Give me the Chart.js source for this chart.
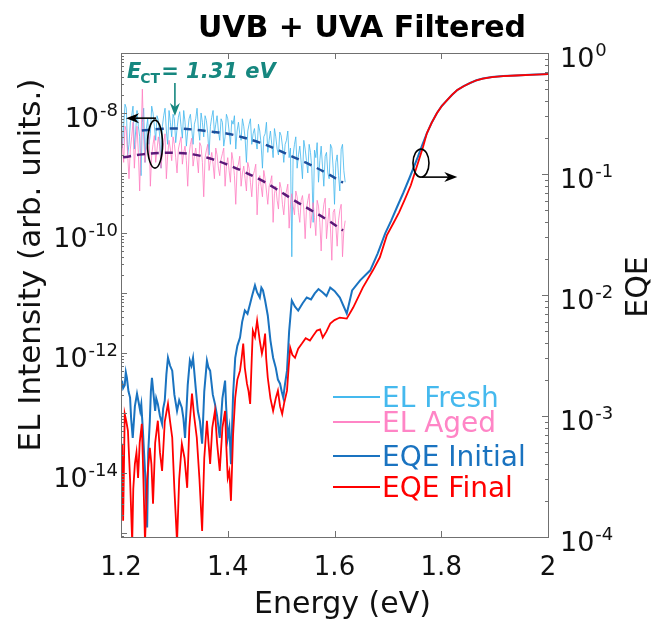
<!DOCTYPE html>
<html>
<head>
<meta charset="utf-8">
<script src="https://cdn.jsdelivr.net/npm/chart.js@4.4.1/dist/chart.umd.min.js"></script>
<style>
  body { margin: 0; background: #fff; }
  canvas { display: block; }
</style>
</head>
<body>
<canvas id="chart" width="652" height="621"></canvas>
<script>
// EL spectra (left axis), one row = 0.02 eV
const energyEL = [
  1.2000,1.2025,1.2050,1.2075,1.2100,1.2125,1.2150,1.2175,
  1.2200,1.2225,1.2250,1.2275,1.2300,1.2325,1.2350,1.2375,
  1.2400,1.2425,1.2450,1.2475,1.2500,1.2525,1.2550,1.2575,
  1.2600,1.2625,1.2650,1.2675,1.2700,1.2725,1.2750,1.2775,
  1.2800,1.2825,1.2850,1.2875,1.2900,1.2925,1.2950,1.2975,
  1.3000,1.3025,1.3050,1.3075,1.3100,1.3125,1.3150,1.3175,
  1.3200,1.3225,1.3250,1.3275,1.3300,1.3325,1.3350,1.3375,
  1.3400,1.3425,1.3450,1.3475,1.3500,1.3525,1.3550,1.3575,
  1.3600,1.3625,1.3650,1.3675,1.3700,1.3725,1.3750,1.3775,
  1.3800,1.3825,1.3850,1.3875,1.3900,1.3925,1.3950,1.3975,
  1.4000,1.4025,1.4050,1.4075,1.4100,1.4125,1.4150,1.4175,
  1.4200,1.4225,1.4250,1.4275,1.4300,1.4325,1.4350,1.4375,
  1.4400,1.4425,1.4450,1.4475,1.4500,1.4525,1.4550,1.4575,
  1.4600,1.4625,1.4650,1.4675,1.4700,1.4725,1.4750,1.4775,
  1.4800,1.4825,1.4850,1.4875,1.4900,1.4925,1.4950,1.4975,
  1.5000,1.5025,1.5050,1.5075,1.5100,1.5125,1.5150,1.5175,
  1.5200,1.5225,1.5250,1.5275,1.5300,1.5325,1.5350,1.5375,
  1.5400,1.5425,1.5450,1.5475,1.5500,1.5525,1.5550,1.5575,
  1.5600,1.5625,1.5650,1.5675,1.5700,1.5725,1.5750,1.5775,
  1.5800,1.5825,1.5850,1.5875,1.5900,1.5925,1.5950,1.5975,
  1.6000,1.6025,1.6050,1.6075,1.6100,1.6125,1.6150,1.6175,
  1.6200
];
const elFresh = [
  1.8e-8,2.6e-9,6e-9,1.4e-8,1.2e-8,2e-9,3e-9,7e-9,
  9e-9,1.3e-8,2.5e-9,5e-9,1.1e-8,6e-9,4e-9,9e-10,
  7e-9,1.2e-8,1.5e-9,5.5e-9,8e-9,3e-9,4.5e-9,1.3e-8,
  1e-8,6e-9,3.5e-9,9e-9,7.5e-9,4e-9,1.2e-9,6e-9,
  9e-9,1.2e-8,5e-9,3e-9,1.1e-8,7e-9,4e-9,9.5e-9,
  8e-9,3.2e-9,5.5e-9,8.5e-9,1.05e-8,6e-9,3.8e-9,1.1e-8,
  7e-9,2.8e-9,5e-9,8e-9,9.5e-9,5.5e-9,3e-9,6.5e-9,
  8e-9,1.2e-8,5.5e-9,3.5e-9,1e-8,7e-9,4e-9,9e-9,
  7.5e-9,4.5e-9,2e-9,6e-9,8.5e-9,1.1e-8,4.5e-9,6.5e-9,
  9e-9,5e-9,3.5e-9,8e-9,7e-9,2.8e-9,4e-9,9.5e-9,
  8e-9,5e-9,3e-9,7.5e-9,6.5e-9,9e-9,2.5e-9,5e-9,
  7e-9,4.5e-9,3.5e-9,8e-9,6e-9,3.8e-9,1.5e-9,5e-9,
  6.5e-9,8e-9,3e-9,4.5e-9,5.5e-9,3.5e-9,2.5e-9,6.5e-9,
  5e-9,3e-9,1.2e-9,4e-9,4.5e-9,7e-9,2.2e-9,3.5e-9,
  5e-9,3e-9,1.8e-9,5.5e-9,4e-9,2.5e-9,2e-9,4.8e-9,
  4.2e-9,2.8e-9,1.5e-9,3e-9,3.5e-9,5e-9,1.8e-9,2.6e-9,
  4e-11,2e-9,3e-9,4e-9,1.2e-9,2e-9,2.8e-9,1.5e-9,
  8e-10,3.5e-9,2.5e-9,1.6e-9,1e-9,3e-9,2.2e-9,1.2e-9,
  1.5e-10,2.4e-9,1.8e-9,3.2e-9,7e-10,1.6e-9,2.8e-9,1.3e-9,
  6e-10,1.9e-9,2.2e-9,1e-9,8e-10,3e-9,2.6e-9,1.2e-9,
  3e-10,1.5e-9,2e-9,9e-10,5e-10,2.5e-9,3e-9,1.1e-9,
  7e-10
];
const elAged = [
  8e-9,3e-9,1.5e-9,6e-9,5e-9,2e-9,8e-10,2.5e-9,
  4e-9,7e-9,1.2e-9,3e-9,6e-9,2.2e-9,5e-10,3.5e-9,
  2.5e-8,4e-9,1.5e-9,2.5e-9,3.5e-9,5e-9,6e-10,2e-9,
  3e-9,4.2e-9,1.5e-9,2.5e-9,4e-9,2.8e-9,1.2e-9,2.2e-9,
  3.2e-9,4.5e-9,8e-10,2e-9,3.5e-9,2.5e-9,1.6e-9,4e-9,
  3e-9,1.8e-9,1e-9,2.5e-9,3.2e-9,4e-9,1.4e-9,2.2e-9,
  2.8e-9,1.6e-9,6e-10,2e-9,3e-9,3.8e-9,1.3e-9,1.9e-9,
  2.6e-9,1.7e-9,1e-9,3.2e-9,2.8e-9,1.5e-9,4e-10,1.8e-9,
  2.4e-9,3e-9,1.1e-9,1.6e-9,2.2e-9,1.4e-9,8e-10,2.6e-9,
  2e-9,1.2e-9,9e-10,1.7e-9,2.1e-9,2.6e-9,6e-10,1.3e-9,
  1.8e-9,1.1e-9,7e-10,2.2e-9,1.6e-9,9e-10,3e-10,1.2e-9,
  1.4e-9,1.9e-9,6e-10,1e-9,1.3e-9,8e-10,5e-10,1.5e-9,
  1.2e-9,7e-10,4e-10,9e-10,1.1e-9,1.4e-9,2e-10,6e-10,
  9e-10,6e-10,4e-10,1.1e-9,8e-10,5e-10,3e-10,6e-10,
  7e-10,9e-10,1.5e-10,4.5e-10,6e-10,3.5e-10,2.5e-10,7e-10,
  5.5e-10,3e-10,2e-10,4e-10,5e-10,6.5e-10,1.2e-10,3e-10,
  4.5e-10,2.8e-10,2e-10,5e-10,4e-10,2.2e-10,1.5e-10,3.5e-10,
  4.2e-10,2.5e-10,8e-11,2.5e-10,3.5e-10,4.5e-10,1.2e-10,2e-10,
  3.2e-10,1.8e-10,9e-11,3.5e-10,2.8e-10,1.5e-10,5e-11,1.8e-10,
  3e-10,3.8e-10,8e-11,1.5e-10,2.6e-10,1.2e-10,3.5e-11,2.2e-10,
  2.5e-10,1.3e-10,6e-11,1.6e-10,2.4e-10,3e-10,4e-11,1.1e-10,
  1.6e-10
];

// fitted CT bands (dashed)
const fitFreshEnergy = [1.239,1.270,1.305,1.335,1.367,1.400,1.429,1.460,1.492,1.522,1.554,1.585,1.616];
const fitFresh = [5.1e-9,5.4e-9,5.5e-9,5.3e-9,4.9e-9,4.5e-9,3.9e-9,3.2e-9,2.46e-9,1.86e-9,1.38e-9,9.9e-10,6.9e-10];
const fitAgedEnergy = [1.204,1.240,1.273,1.305,1.335,1.367,1.399,1.430,1.460,1.491,1.522,1.554,1.586,1.616];
const fitAged = [1.82e-9,2.04e-9,2.16e-9,2.16e-9,2.04e-9,1.74e-9,1.38e-9,1.05e-9,7.8e-10,5.4e-10,3.6e-10,2.45e-10,1.66e-10,1.1e-10];

// EQE (right axis), rows of 10
const energyEqeInitial = [
  1.202,1.204,1.207,1.209,1.211,1.214,1.217,1.219,1.222,1.226,
  1.230,1.233,1.236,1.238,1.241,1.245,1.249,1.251,1.254,1.256,
  1.258,1.261,1.264,1.266,1.269,1.273,1.277,1.279,1.282,1.285,
  1.288,1.292,1.296,1.300,1.305,1.309,1.314,1.317,1.320,1.325,
  1.329,1.332,1.335,1.340,1.344,1.348,1.352,1.356,1.361,1.364,
  1.367,1.372,1.376,1.380,1.385,1.390,1.395,1.397,1.400,1.403,
  1.406,1.410,1.414,1.418,1.423,1.427,1.432,1.437,1.442,1.446,
  1.451,1.455,1.460,1.463,1.466,1.470,1.475,1.480,1.485,1.490,
  1.494,1.498,1.501,1.504,1.507,1.511,1.515,1.520,1.526,1.532,
  1.540,1.548,1.556,1.563,1.570,1.578,1.585,1.592,1.600,1.610,
  1.623,1.633,1.648,1.667,1.681,1.695,1.706,1.717,1.729,1.741,
  1.756,1.764,1.773,1.782,1.792,1.801,1.811,1.820,1.830,1.842,
  1.854,1.866,1.878,1.895,1.916,1.940,1.966,2.000
];
const eqeInitial = [
  0.00196,0.00170,0.00180,0.00230,0.00207,0.00160,0.00142,0.00095,0.00066,0.00120,
  0.00153,0.00130,0.00110,0.00125,0.00076,0.00035,0.00012,0.00050,0.00091,0.00160,
  0.00207,0.00150,0.00110,0.00140,0.00126,0.00100,0.00086,0.00115,0.00134,0.00220,
  0.00303,0.00260,0.00237,0.00150,0.00110,0.00135,0.00117,0.00095,0.00066,0.00180,
  0.00287,0.00260,0.00303,0.00170,0.00110,0.00090,0.00059,0.00160,0.00287,0.00250,
  0.00237,0.00150,0.00126,0.00100,0.00066,0.00140,0.00196,0.00120,0.00066,0.00080,
  0.00040,0.00150,0.00303,0.00380,0.00445,0.00600,0.00744,0.00700,0.00851,0.0100,
  0.0120,0.0105,0.00953,0.0115,0.0109,0.0090,0.00677,0.00420,0.00303,0.00250,
  0.00200,0.00185,0.00160,0.00142,0.00180,0.00237,0.00500,0.00900,0.00800,0.00744,
  0.00850,0.00953,0.00920,0.0103,0.0112,0.0105,0.00980,0.0115,0.0108,0.00953,
  0.00703,0.0109,0.0132,0.0160,0.0221,0.0323,0.041,0.0531,0.070,0.094,
  0.138,0.172,0.217,0.265,0.319,0.365,0.408,0.450,0.494,0.532,
  0.565,0.595,0.615,0.632,0.645,0.652,0.660,0.670
];
const energyEqeFinal = [
  1.202,1.204,1.207,1.210,1.213,1.217,1.221,1.223,1.226,1.229,
  1.232,1.235,1.239,1.242,1.245,1.249,1.254,1.257,1.260,1.264,
  1.269,1.273,1.277,1.282,1.288,1.292,1.296,1.300,1.305,1.309,
  1.314,1.319,1.324,1.328,1.333,1.337,1.342,1.347,1.352,1.356,
  1.361,1.364,1.367,1.371,1.376,1.380,1.385,1.390,1.395,1.397,
  1.400,1.403,1.406,1.410,1.414,1.418,1.423,1.426,1.429,1.432,
  1.436,1.439,1.442,1.445,1.447,1.451,1.455,1.460,1.464,1.467,
  1.470,1.472,1.475,1.480,1.485,1.490,1.494,1.498,1.502,1.506,
  1.511,1.514,1.517,1.521,1.526,1.532,1.539,1.546,1.554,1.560,
  1.567,1.573,1.578,1.585,1.592,1.600,1.610,1.623,1.635,1.653,
  1.672,1.685,1.698,1.710,1.721,1.732,1.743,1.758,1.766,1.773,
  1.782,1.792,1.801,1.811,1.820,1.830,1.842,1.854,1.866,1.878,
  1.895,1.916,1.940,1.966,2.000
];
const eqeFinal = [
  0.000589,0.000136,0.00104,0.00090,0.000755,0.00030,0.00009,0.00025,0.000402,0.00050,
  0.000308,0.00060,0.000863,0.00030,0.00009,0.00030,0.000546,0.00040,0.000188,0.00060,
  0.000914,0.00050,0.000352,0.00090,0.00126,0.00090,0.000661,0.00025,0.00009,0.00030,
  0.000589,0.00045,0.000255,0.00080,0.00153,0.00100,0.000661,0.00030,0.000112,0.00045,
  0.000914,0.00060,0.000402,0.00080,0.00110,0.00060,0.000352,0.00080,0.00110,0.00060,
  0.000308,0.00035,0.000199,0.00070,0.00142,0.00200,0.00237,0.00300,0.00397,0.00250,
  0.00185,0.00160,0.00126,0.00300,0.00508,0.00450,0.00615,0.00420,0.00328,0.00380,
  0.00480,0.00300,0.00207,0.00140,0.00110,0.00140,0.00162,0.00120,0.00104,0.00130,
  0.00162,0.00250,0.00367,0.00320,0.00303,0.00360,0.00397,0.00440,0.00420,0.00460,
  0.00508,0.00520,0.00445,0.00500,0.00581,0.00620,0.00651,0.00638,0.00788,0.0115,
  0.0160,0.0205,0.0311,0.039,0.0482,0.062,0.0807,0.130,0.168,0.217,
  0.265,0.319,0.365,0.408,0.450,0.494,0.532,0.565,0.595,0.615,
  0.632,0.645,0.652,0.660,0.670
];

// axes
const xTicks = [1.2, 1.4, 1.6, 1.8, 2];
const xTickLabels = ['1.2', '1.4', '1.6', '1.8', '2'];
const leftLabelExps = [-8, -10, -12, -14];
const rightLabelExps = [0, -1, -2, -3, -4];

const legendItems = [
  { label: 'EL Fresh', color: '#45b9ee' },
  { label: 'EL Aged', color: '#ff85c6' },
  { label: 'EQE Initial', color: '#1a73c0' },
  { label: 'EQE Final', color: '#ff0000' }
];

const FONT = '"DejaVu Sans", Verdana, sans-serif';

function pairs(xs, ys) {
  return xs.map((x, i) => ({ x: x, y: ys[i] }));
}

function drawPow(ctx, exp, x, y, align) {
  ctx.font = '27px ' + FONT;
  const w1 = ctx.measureText('10').width;
  ctx.font = '18px ' + FONT;
  const sup = String(exp);
  const w2 = ctx.measureText(sup).width;
  const x0 = align === 'right' ? x - w1 - w2 - 1 : x;
  ctx.textAlign = 'left';
  ctx.textBaseline = 'alphabetic';
  ctx.font = '27px ' + FONT;
  ctx.fillText('10', x0, y + 14);
  ctx.font = '18px ' + FONT;
  ctx.fillText(sup, x0 + w1 + 1, y + 3);
}

function arrow(ctx, x1, y1, x2, y2, color) {
  const ang = Math.atan2(y2 - y1, x2 - x1);
  const c = Math.cos(ang), s = Math.sin(ang);
  ctx.strokeStyle = color;
  ctx.fillStyle = color;
  ctx.lineWidth = 1.6;
  ctx.beginPath();
  ctx.moveTo(x1, y1);
  ctx.lineTo(x2 - 6 * c, y2 - 6 * s);
  ctx.stroke();
  ctx.beginPath();
  ctx.moveTo(x2, y2);
  ctx.lineTo(x2 - 13 * c + 5 * s, y2 - 13 * s - 5 * c);
  ctx.lineTo(x2 - 9 * c, y2 - 9 * s);
  ctx.lineTo(x2 - 13 * c - 5 * s, y2 - 13 * s + 5 * c);
  ctx.closePath();
  ctx.fill();
}

const decorations = {
  id: 'decorations',
  afterDraw(chart) {
    const { ctx, chartArea: a, scales } = chart;
    const sx = scales.x, yl = scales.y, yr = scales.y2;
    ctx.save();

    // box + inward ticks
    ctx.strokeStyle = '#707070';
    ctx.lineWidth = 1;
    ctx.strokeRect(a.left + 0.5, a.top + 0.5, a.right - a.left, a.bottom - a.top);
    ctx.beginPath();
    xTicks.forEach(v => {
      const px = Math.round(sx.getPixelForValue(v)) + 0.5;
      ctx.moveTo(px, a.bottom); ctx.lineTo(px, a.bottom - 6);
      ctx.moveTo(px, a.top); ctx.lineTo(px, a.top + 6);
    });
    for (let e = -16; e <= -7; e++) {
      for (let m = 1; m < 10; m++) {
        const v = m * Math.pow(10, e);
        if (v < yl.min || v > yl.max) continue;
        const py = Math.round(yl.getPixelForValue(v)) + 0.5;
        ctx.moveTo(a.left, py); ctx.lineTo(a.left + (m === 1 ? 6 : 3), py);
      }
    }
    for (let e = -4; e <= 0; e++) {
      for (let m = 1; m < 10; m++) {
        const v = m * Math.pow(10, e);
        if (v < yr.min || v > yr.max) continue;
        const py = Math.round(yr.getPixelForValue(v)) + 0.5;
        ctx.moveTo(a.right, py); ctx.lineTo(a.right - (m === 1 ? 6 : 3), py);
      }
    }
    ctx.stroke();

    // tick labels
    ctx.fillStyle = '#111';
    ctx.font = '26px ' + FONT;
    ctx.textAlign = 'center';
    ctx.textBaseline = 'alphabetic';
    xTicks.forEach((v, i) => ctx.fillText(xTickLabels[i], sx.getPixelForValue(v), a.bottom + 38));
    leftLabelExps.forEach(e => drawPow(ctx, e, a.left - 3, yl.getPixelForValue(Math.pow(10, e)), 'right'));
    rightLabelExps.forEach(e => drawPow(ctx, e, a.right + 12, yr.getPixelForValue(Math.pow(10, e)), 'left'));

    // axis titles
    ctx.font = '30px ' + FONT;
    ctx.textAlign = 'center';
    ctx.fillText('Energy (eV)', (a.left + a.right) / 2 + 8, a.bottom + 76);
    ctx.save();
    ctx.translate(40, 265);
    ctx.rotate(-Math.PI / 2);
    ctx.font = '31px ' + FONT;
    ctx.fillText('EL Intensity (arb. units.)', 0, 0);
    ctx.restore();
    ctx.save();
    ctx.translate(647, 287);
    ctx.rotate(-Math.PI / 2);
    ctx.font = '30px ' + FONT;
    ctx.fillText('EQE', 0, 0);
    ctx.restore();

    // title
    ctx.font = 'bold 30px ' + FONT;
    ctx.fillStyle = '#000';
    ctx.fillText('UVB + UVA Filtered', 362, 37);

    // legend
    const rows = [407, 432, 466, 497];
    legendItems.forEach((it, i) => {
      ctx.strokeStyle = it.color;
      ctx.lineWidth = 2;
      ctx.beginPath();
      ctx.moveTo(333, rows[i] - 10);
      ctx.lineTo(380, rows[i] - 10);
      ctx.stroke();
      ctx.fillStyle = it.color;
      ctx.font = '28px ' + FONT;
      ctx.textAlign = 'left';
      ctx.fillText(it.label, 382, rows[i]);
    });

    // E_CT annotation
    const teal = '#16877f';
    const ex = sx.getPixelForValue(1.2112), ey = yl.getPixelForValue(Math.pow(10, -7.417));
    ctx.fillStyle = teal;
    ctx.textAlign = 'left';
    ctx.font = 'italic bold 21px ' + FONT;
    ctx.fillText('E', ex, ey);
    let w = ctx.measureText('E').width;
    ctx.font = 'bold 14px ' + FONT;
    ctx.fillText('CT', ex + w - 1, ey + 5);
    w += ctx.measureText('CT').width;
    ctx.font = 'italic bold 21px ' + FONT;
    ctx.fillText('= 1.31 eV', ex + w, ey);
    const ax = sx.getPixelForValue(1.301);
    arrow(ctx, ax, yl.getPixelForValue(Math.pow(10, -7.5)), ax, yl.getPixelForValue(Math.pow(10, -8.05)), teal);

    // ellipse + arrow -> left axis
    ctx.strokeStyle = '#000';
    ctx.lineWidth = 1.6;
    const c1x = sx.getPixelForValue(1.2637), c1y = yl.getPixelForValue(Math.pow(10, -8.52));
    ctx.beginPath();
    ctx.ellipse(c1x, c1y, 7.5, 24, 0, 0, Math.PI * 2);
    ctx.stroke();
    arrow(ctx, c1x + 1, c1y - 26, sx.getPixelForValue(1.2094), c1y - 26, '#000');

    // ellipse + arrow -> right axis
    ctx.strokeStyle = '#000';
    ctx.lineWidth = 1.6;
    const c2x = sx.getPixelForValue(1.762), c2y = yr.getPixelForValue(0.123);
    ctx.beginPath();
    ctx.ellipse(c2x, c2y, 8, 14, 0, 0, Math.PI * 2);
    ctx.stroke();
    arrow(ctx, c2x + 1, c2y + 14, sx.getPixelForValue(1.83), c2y + 14, '#000');

    ctx.restore();
  }
};

new Chart(document.getElementById('chart'), {
  type: 'line',
  data: {
    datasets: [
      { label: 'EQE Final', data: pairs(energyEqeFinal, eqeFinal), yAxisID: 'y2', borderColor: '#ff0000', borderWidth: 1.8, order: 0 },
      { label: 'EQE Initial', data: pairs(energyEqeInitial, eqeInitial), yAxisID: 'y2', borderColor: '#1a73c0', borderWidth: 2, order: 1 },
      { label: 'Fit Fresh', data: pairs(fitFreshEnergy, fitFresh), yAxisID: 'y', borderColor: '#1d4f9c', borderWidth: 2.5, borderDash: [8, 6], tension: 0.4, order: 2 },
      { label: 'Fit Aged', data: pairs(fitAgedEnergy, fitAged), yAxisID: 'y', borderColor: '#5c1878', borderWidth: 2.5, borderDash: [8, 6], tension: 0.4, order: 3 },
      { label: 'EL Aged', data: pairs(energyEL, elAged), yAxisID: 'y', borderColor: 'rgba(255,125,192,0.8)', borderWidth: 1, order: 4 },
      { label: 'EL Fresh', data: pairs(energyEL, elFresh), yAxisID: 'y', borderColor: 'rgba(65,182,238,0.8)', borderWidth: 1, order: 5 }
    ]
  },
  options: {
    responsive: false,
    animation: false,
    layout: { padding: { left: 121, top: 53, right: 104, bottom: 84 } },
    elements: { point: { radius: 0 }, line: { tension: 0 } },
    scales: {
      x: { type: 'linear', min: 1.2, max: 2, display: false },
      y: { type: 'logarithmic', min: 8.5e-16, max: 1e-7, display: false },
      y2: { type: 'logarithmic', min: 1e-4, max: 1, display: false, position: 'right' }
    },
    plugins: { legend: { display: false }, tooltip: { enabled: false } }
  },
  plugins: [decorations]
});
</script>
</body>
</html>
